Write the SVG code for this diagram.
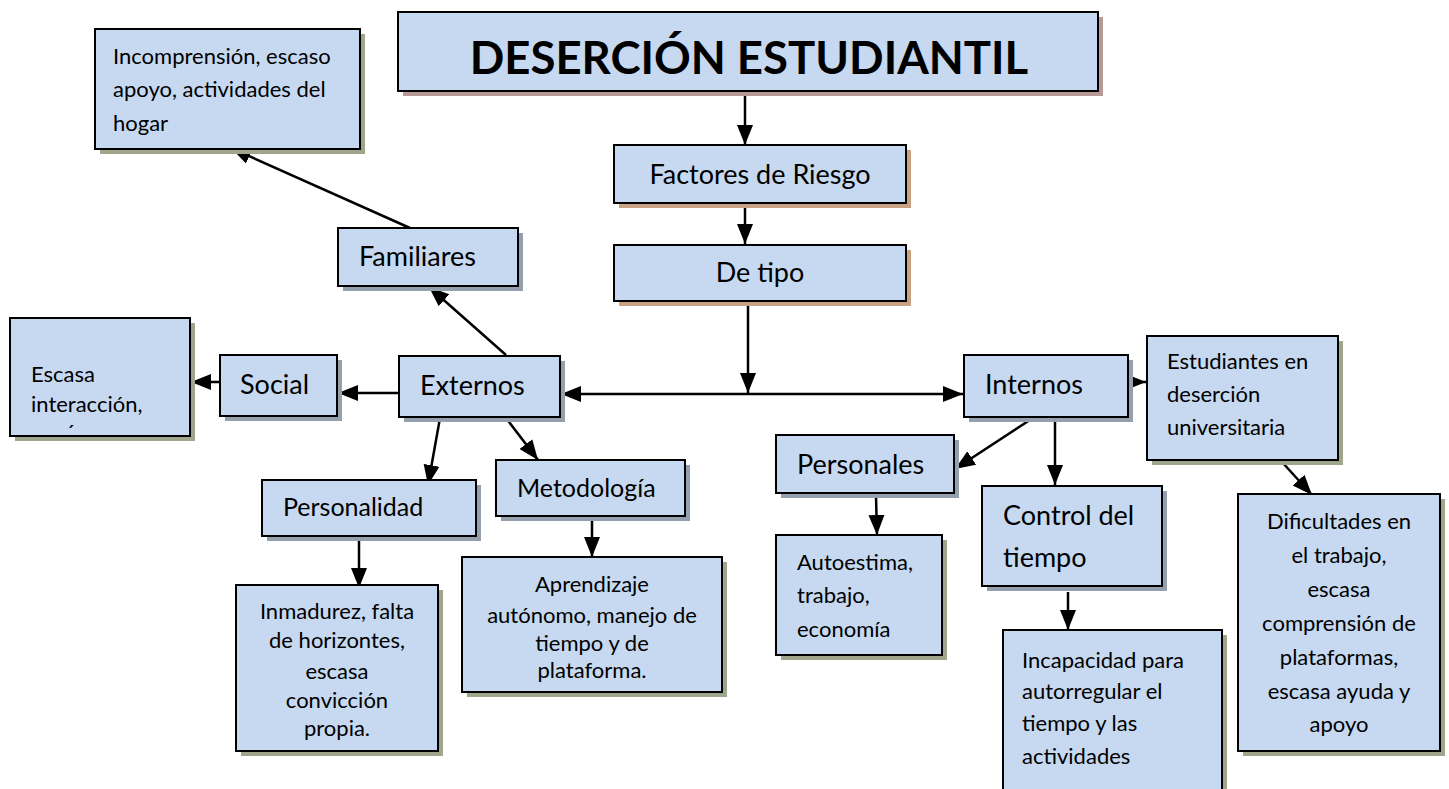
<svg xmlns="http://www.w3.org/2000/svg" width="1449" height="789" viewBox="0 0 1449 789">
<defs>
<style>
.box{fill:#c6d9f1;stroke:#000;stroke-width:2}
.sr{fill:#b79a98}
.st{fill:#c9a283}
.sb{fill:#95a0ae}
.sg{fill:#9fa68b}
text{font-family:Lato,"Noto Sans",sans-serif;fill:#000}
.t26{font-size:27px}
.t24{font-size:27px}
.t22{font-size:25px}
.t18{font-size:22px}
.c{text-anchor:middle}
.ln{stroke:#000;stroke-width:2.5;fill:none}
</style>
<marker id="a" viewBox="0 0 20 20" refX="20" refY="10" markerWidth="20" markerHeight="20" markerUnits="userSpaceOnUse" orient="auto-start-reverse">
<path d="M0,2 L20,10 L0,18 z" fill="#000"/>
</marker>
</defs>
<rect width="1449" height="789" fill="#fff"/>

<g id="connectors">
<line class="ln" x1="745" y1="91" x2="745" y2="145" marker-end="url(#a)"/>
<line class="ln" x1="745" y1="203" x2="745" y2="244" marker-end="url(#a)"/>
<line class="ln" x1="748" y1="301" x2="748" y2="393" marker-end="url(#a)"/>
<line class="ln" x1="561" y1="394" x2="963" y2="394" marker-start="url(#a)" marker-end="url(#a)"/>
<line class="ln" x1="410" y1="228" x2="231" y2="148" marker-end="url(#a)"/>
<line class="ln" x1="506" y1="355" x2="429" y2="287" marker-end="url(#a)"/>
<line class="ln" x1="399" y1="393" x2="338" y2="393" marker-end="url(#a)"/>
<line class="ln" x1="219" y1="382" x2="191" y2="382" marker-end="url(#a)"/>
<line class="ln" x1="440" y1="418" x2="428" y2="485" marker-end="url(#a)"/>
<line class="ln" x1="506" y1="418" x2="538" y2="460" marker-end="url(#a)"/>
<line class="ln" x1="359" y1="537" x2="359" y2="588" marker-end="url(#a)"/>
<line class="ln" x1="592" y1="516" x2="592" y2="557" marker-end="url(#a)"/>
<line class="ln" x1="1033" y1="418" x2="955" y2="469" marker-end="url(#a)"/>
<line class="ln" x1="876" y1="496" x2="877" y2="535" marker-end="url(#a)"/>
<line class="ln" x1="1055" y1="422" x2="1055" y2="485" marker-end="url(#a)"/>
<line class="ln" x1="1068" y1="592" x2="1068" y2="630" marker-end="url(#a)"/>
<line class="ln" x1="1128" y1="382" x2="1146" y2="382" marker-end="url(#a)"/>
<line class="ln" x1="1282" y1="462" x2="1312" y2="495" marker-end="url(#a)"/>
</g>

<g id="title">
<rect class="sr" x="403" y="17" width="700" height="79"/>
<rect class="box" x="398" y="12" width="700" height="79"/>
<text x="749" y="74" class="c" font-size="45.5" font-weight="bold">DESERCIÓN ESTUDIANTIL</text>
</g>

<g id="factores">
<rect class="st" x="619" y="150" width="292" height="58"/>
<rect class="box" x="614" y="145" width="292" height="58"/>
<text x="760" y="184" class="c t26">Factores de Riesgo</text>
</g>

<g id="detipo">
<rect class="st" x="619" y="250" width="292" height="56"/>
<rect class="box" x="614" y="245" width="292" height="56"/>
<text x="760" y="282" class="c t26">De tipo</text>
</g>

<g id="externos">
<rect class="sb" x="404" y="361" width="161" height="61"/>
<rect class="box" x="399" y="356" width="161" height="61"/>
<text x="420" y="395" class="t26">Externos</text>
</g>

<g id="internos">
<rect class="sb" x="969" y="360" width="164" height="62"/>
<rect class="box" x="964" y="355" width="164" height="62"/>
<text x="985" y="394" class="t26">Internos</text>
</g>

<g id="familiares">
<rect class="sb" x="343" y="233" width="180" height="58"/>
<rect class="box" x="338" y="228" width="180" height="58"/>
<text x="359" y="266" class="t26">Familiares</text>
</g>

<g id="incomprension">
<rect class="sg" x="100" y="34" width="265" height="120"/>
<rect class="box" x="95" y="29" width="265" height="120"/>
<text x="113" y="64" class="t18">Incomprensión, escaso</text>
<text x="113" y="97" class="t18">apoyo, actividades del</text>
<text x="113" y="131" class="t18">hogar</text>
</g>

<g id="social">
<rect class="sb" x="225" y="360" width="117" height="61"/>
<rect class="box" x="220" y="355" width="117" height="61"/>
<text x="240" y="394" class="t26">Social</text>
</g>

<g id="escasa">
<rect class="sg" x="15" y="323" width="180" height="118"/>
<rect class="box" x="10" y="318" width="180" height="118"/>
<text x="31" y="382" class="t18">Escasa</text>
<text x="31" y="412" class="t18">interacción,</text>
<text x="66" y="440" class="t18">´</text>
</g>

<g id="personalidad">
<rect class="sb" x="267" y="485" width="214" height="56"/>
<rect class="box" x="262" y="480" width="214" height="56"/>
<text x="283" y="516" class="t22">Personalidad</text>
</g>

<g id="metodologia">
<rect class="sb" x="501" y="465" width="189" height="56"/>
<rect class="box" x="496" y="460" width="189" height="56"/>
<text x="517" y="497" class="t22">Metodología</text>
</g>

<g id="inmadurez">
<rect class="sg" x="241" y="590" width="202" height="166"/>
<rect class="box" x="236" y="585" width="202" height="166"/>
<text x="337" y="619" class="c t18">Inmadurez, falta</text>
<text x="337" y="648" class="c t18">de horizontes,</text>
<text x="337" y="679" class="c t18">escasa</text>
<text x="337" y="708" class="c t18">convicción</text>
<text x="337" y="736" class="c t18">propia.</text>
</g>

<g id="aprendizaje">
<rect class="sg" x="467" y="562" width="260" height="135"/>
<rect class="box" x="462" y="557" width="260" height="135"/>
<text x="592" y="592" class="c t18">Aprendizaje</text>
<text x="592" y="623" class="c t18">autónomo, manejo de</text>
<text x="592" y="651" class="c t18">tiempo y de</text>
<text x="592" y="678" class="c t18">plataforma.</text>
</g>

<g id="personales">
<rect class="sb" x="781" y="440" width="178" height="58"/>
<rect class="box" x="776" y="435" width="178" height="58"/>
<text x="797" y="474" class="t24">Personales</text>
</g>

<g id="autoestima">
<rect class="sg" x="781" y="540" width="166" height="120"/>
<rect class="box" x="776" y="535" width="166" height="120"/>
<text x="797" y="570" class="t18">Autoestima,</text>
<text x="797" y="603" class="t18">trabajo,</text>
<text x="797" y="637" class="t18">economía</text>
</g>

<g id="control">
<rect class="sb" x="987" y="491" width="180" height="100"/>
<rect class="box" x="982" y="486" width="180" height="100"/>
<text x="1003" y="525" class="t24">Control del</text>
<text x="1003" y="567" class="t24">tiempo</text>
</g>

<g id="incapacidad">
<rect class="sg" x="1008" y="635" width="219" height="170"/>
<rect class="box" x="1003" y="630" width="219" height="170"/>
<text x="1022" y="668" class="t18">Incapacidad para</text>
<text x="1022" y="699" class="t18">autorregular el</text>
<text x="1022" y="731" class="t18">tiempo y las</text>
<text x="1022" y="764" class="t18">actividades</text>
</g>

<g id="estudiantes">
<rect class="sg" x="1152" y="341" width="191" height="124"/>
<rect class="box" x="1147" y="336" width="191" height="124"/>
<text x="1167" y="369" class="t18">Estudiantes en</text>
<text x="1167" y="402" class="t18">deserción</text>
<text x="1167" y="435" class="t18">universitaria</text>
</g>

<g id="dificultades">
<rect class="sg" x="1243" y="499" width="202" height="257"/>
<rect class="box" x="1238" y="494" width="202" height="257"/>
<text x="1339" y="529" class="c t18">Dificultades en</text>
<text x="1339" y="563" class="c t18">el trabajo,</text>
<text x="1339" y="597" class="c t18">escasa</text>
<text x="1339" y="631" class="c t18">comprensión de</text>
<text x="1339" y="665" class="c t18">plataformas,</text>
<text x="1339" y="699" class="c t18">escasa ayuda y</text>
<text x="1339" y="732" class="c t18">apoyo</text>
</g>
</svg>
